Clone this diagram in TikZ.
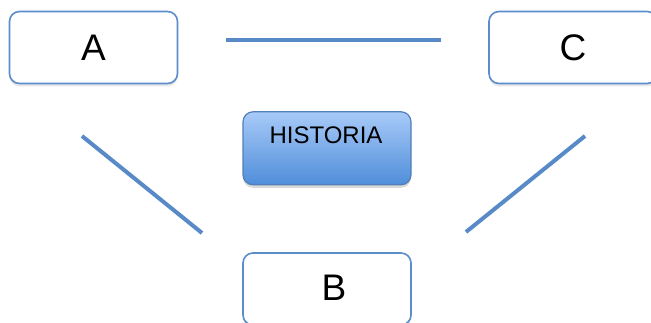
\documentclass[tikz,border=0pt]{standalone}
\usepackage{fontspec}
\setmainfont{Liberation Sans}
\usetikzlibrary{shadows}
\definecolor{edgeblue}{RGB}{91,141,204}
\definecolor{lineblue}{RGB}{88,138,200}
\definecolor{topblue}{RGB}{168,202,248}
\definecolor{botblue}{RGB}{80,142,218}
\tikzset{
  letterbox/.style={draw=edgeblue, line width=1.6pt, fill=white, rounded corners=10pt,
    minimum width=168pt, minimum height=72pt, inner sep=0pt,
    drop shadow={opacity=0.18, shadow xshift=0pt, shadow yshift=-3pt},
    font=\fontsize{37}{40}\selectfont},
  histbox/.style={draw=edgeblue!90!black, line width=1.2pt, rounded corners=10pt,
    top color=topblue, bottom color=botblue,
    minimum width=168pt, minimum height=73pt, inner sep=0pt,
    drop shadow={opacity=0.3, shadow xshift=0pt, shadow yshift=-3pt}},
  link/.style={draw=lineblue, line width=4pt}
}
\begin{document}
\begin{tikzpicture}[x=1pt,y=-1pt]
\useasboundingbox (0,0) rectangle (651,323);
\clip (0,0) rectangle (651,323);
\node[letterbox] (A) at (93.5,47.5) {};
\node at (93.5,47.5) [font=\fontsize{37}{40}\selectfont, anchor=center] (Atext) {A};
\node[letterbox] (C) at (573,47.5) {};
\node at (573,47.5) [font=\fontsize{37}{40}\selectfont] (Ctext) {C};
\node[histbox] (H) at (327,148.3) {};
\node at (326,135.5) [font=\fontsize{24}{26}\selectfont] (Htext) {HISTORIA};
\node[letterbox] (B) at (327,289) {};
\node at (334,288) [font=\fontsize{37}{40}\selectfont] (Btext) {B};
\coordinate (t1) at (226,40);
\coordinate (t2) at (441,40);
\coordinate (l1) at (82,136);
\coordinate (l2) at (202,233);
\coordinate (r1) at (585,136);
\coordinate (r2) at (466,232);
\draw[link] (t1) -- (t2);
\draw[link] (l1) -- (l2);
\draw[link] (r1) -- (r2);
\end{tikzpicture}
\end{document}
